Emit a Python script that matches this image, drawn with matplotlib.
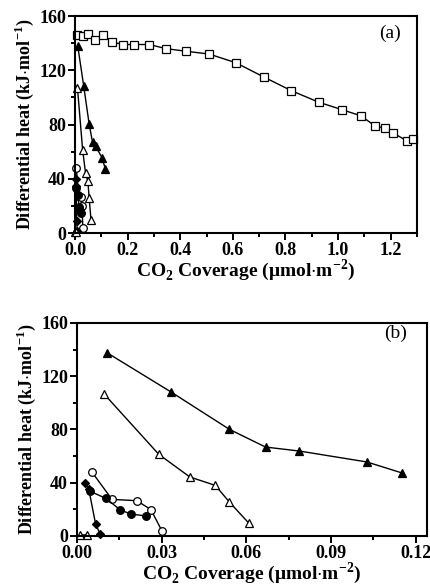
import numpy as np
import matplotlib
matplotlib.use("Agg")
import matplotlib.pyplot as plt
from matplotlib.ticker import MultipleLocator

plt.rcParams['font.family'] = ['Liberation Serif', 'DejaVu Serif']
plt.rcParams['mathtext.fontset'] = 'custom'
plt.rcParams['mathtext.rm'] = 'Liberation Serif:bold'
plt.rcParams['mathtext.bf'] = 'Liberation Serif:bold'

# podatki - pokritost CO2 (umol/m2) in diferencialna toplota (kJ/mol)
sq_x = [0.008, 0.030, 0.049, 0.077, 0.106, 0.140, 0.181, 0.225, 0.282, 0.345,
        0.422, 0.509, 0.611, 0.718, 0.822, 0.927, 1.014, 1.087, 1.140, 1.179,
        1.207, 1.261, 1.283]
sq_y = [146, 145.5, 146.5, 142, 146, 141, 139, 139, 139, 136,
        134, 132, 125.6, 115, 105, 96.4, 91, 86.4, 79, 77.3,
        74, 68, 69.5]

tri_f_x = [0.0106, 0.0333, 0.0540, 0.0668, 0.0788, 0.1027, 0.1152]
tri_f_y = [137.7, 108.2, 80.1, 66.8, 63.8, 55.6, 47.3]

tri_o_x = [0.0095, 0.0290, 0.0400, 0.0490, 0.0540, 0.0608]
tri_o_y = [106.9, 61.3, 44.3, 38.0, 25.5, 9.8]

circ_o_x = [0.0052, 0.0124, 0.0212, 0.0262, 0.0301]
circ_o_y = [48.3, 27.5, 26.5, 19.8, 3.8]

circ_f_x = [0.0047, 0.0102, 0.0154, 0.0191, 0.0245]
circ_f_y = [33.5, 28.3, 19.5, 16.5, 15.0]

dia_x = [0.0027, 0.0042, 0.0066, 0.0082]
dia_y = [40.0, 35.0, 9.0, 1.5]

tri_s_x = [0.0012, 0.0034]
tri_s_y = [0.5, 1.0]

fig = plt.figure(figsize=(4.3, 5.85), dpi=100)
ax1 = fig.add_axes([0.1744, 0.6017, 0.7954, 0.3709])
ax2 = fig.add_axes([0.1790, 0.0838, 0.8140, 0.3641])

ms = 5.5
def narisi(ax):
    kw = dict(color='black', lw=1.0, ms=ms, mew=0.9, clip_on=False)
    ax.plot(tri_f_x, tri_f_y, '-^', mfc='black', **kw)
    ax.plot(tri_o_x, tri_o_y, '-^', mfc='white', **kw)
    ax.plot(circ_o_x, circ_o_y, '-o', mfc='white', **kw)
    ax.plot(circ_f_x, circ_f_y, '-o', mfc='black', **kw)
    ax.plot(dia_x, dia_y, '-D', mfc='black', **dict(kw, ms=4.5))
    ax.plot(tri_s_x, tri_s_y, '-^', mfc='white', **kw)

# (a) - celoten razpon
ax1.plot(sq_x, sq_y, '-s', color='black', mfc='white', lw=1.0, ms=ms, mew=0.9, clip_on=False)
narisi(ax1)
ax1.set_xlim(0, 1.3)
ax1.set_ylim(0, 160)
ax1.xaxis.set_major_locator(MultipleLocator(0.2))
ax1.xaxis.set_minor_locator(MultipleLocator(0.1))
ax1.text(0.921, 0.92, '(a)', transform=ax1.transAxes, ha='center', va='center', fontsize=14)

# (b) - povecava pri nizki pokritosti
narisi(ax2)
ax2.set_xlim(0, 0.124)
ax2.set_ylim(0, 160)
ax2.xaxis.set_major_locator(MultipleLocator(0.03))
ax2.xaxis.set_minor_locator(MultipleLocator(0.015))
ax2.xaxis.set_major_formatter(plt.FormatStrFormatter('%.2f'))
ax2.text(0.909, 0.95, '(b)', transform=ax2.transAxes, ha='center', va='center', fontsize=14)

for ax in (ax1, ax2):
    ax.yaxis.set_major_locator(MultipleLocator(40))
    ax.yaxis.set_minor_locator(MultipleLocator(20))
    for s in ax.spines.values():
        s.set_linewidth(1.5)
    ax.tick_params(which='both', direction='out', top=False, right=False, width=1.4)
    ax.tick_params(which='major', length=5, labelsize=13, pad=1.5)
    ax.tick_params(which='minor', length=3)
    for lab in ax.get_xticklabels() + ax.get_yticklabels():
        lab.set_fontweight('bold')
    ax.set_ylabel(r'Differential heat (kJ$\cdot$mol$^{\mathbf{-1}}$)', fontsize=13,
                  fontweight='bold', labelpad=2)
    ax.set_xlabel(r'CO$_\mathbf{2}$ Coverage (μmol$\cdot$m$^{\mathbf{-2}}$)', fontsize=14,
                  fontweight='bold', labelpad=-1)

fig.savefig('out.png', dpi=100)
